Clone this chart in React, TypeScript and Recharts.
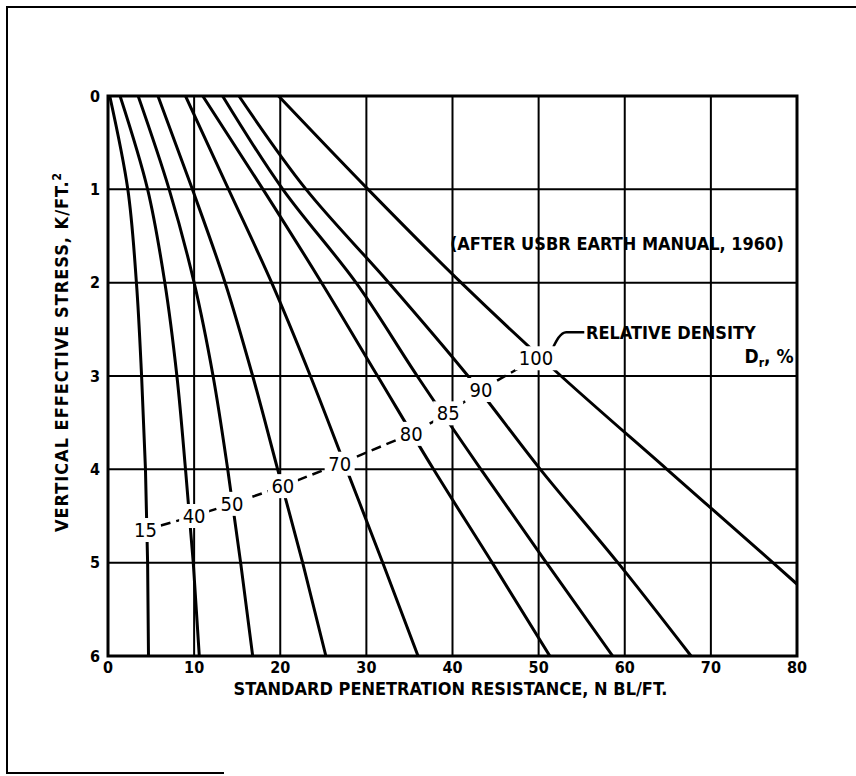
import React from "react";
import {
  CartesianGrid,
  Label,
  Line,
  LineChart,
  ReferenceArea,
  ReferenceDot,
  XAxis,
  YAxis,
} from "recharts";

const FONT = '"DejaVu Sans Condensed", "DejaVu Sans", sans-serif';

// vertical effective stress, k/ft^2
const stressLevels = [0, 1, 2, 3, 4, 5, 6];

// N (blows/ft) at the stress levels above
const dr15 = [0.2, 2.3, 3.3, 3.9, 4.35, 4.6, 4.7];
const dr40 = [1.4, 4.6, 6.6, 8.0, 9.0, 9.9, 10.6];
const dr50 = [3.5, 7.1, 10.0, 12.2, 13.9, 15.4, 16.8];
const dr60 = [5.8, 9.8, 13.6, 16.8, 19.7, 22.6, 25.3];
const dr70 = [9.0, 14.0, 19.0, 23.5, 27.7, 31.9, 36.0];
const dr80 = [11.0, 18.0, 24.8, 31.3, 37.8, 44.6, 51.3];
const dr85 = [13.3, 20.3, 28.8, 35.9, 43.3, 50.9, 58.6];
const dr90 = [15.2, 23.0, 32.6, 41.8, 50.2, 59.2, 67.7];
// the 100% line runs out through the right edge before stress 6
const dr100 = [19.8, 30.2, 41.0, 52.6, 64.9, 77.2];
const dr100ExitN = 80;
const dr100ExitS = 5.23;

// relative density tags sitting on the dashed line
const densityLabels = ["15", "40", "50", "60", "70", "80", "85", "90", "100"];
const densityN = [4.35, 10.0, 14.4, 20.3, 26.9, 35.2, 39.5, 43.3, 49.7];
const densityS = [4.65, 4.5, 4.37, 4.18, 3.94, 3.62, 3.4, 3.15, 2.81];

// leader from the "100" tag to the RELATIVE DENSITY note
const leaderN = [51.7, 52.3, 53.2, 55.3];
const leaderS = [2.69, 2.59, 2.53, 2.53];

const xTicks = [0, 10, 20, 30, 40, 50, 60, 70, 80];
const yTicks = [0, 1, 2, 3, 4, 5, 6];

const toPoints = (ns: number[]) => ns.map((n, i) => ({ n, s: stressLevels[i] }));

const curves = [
  { key: "15", pts: toPoints(dr15) },
  { key: "40", pts: toPoints(dr40) },
  { key: "50", pts: toPoints(dr50) },
  { key: "60", pts: toPoints(dr60) },
  { key: "70", pts: toPoints(dr70) },
  { key: "80", pts: toPoints(dr80) },
  { key: "85", pts: toPoints(dr85) },
  { key: "90", pts: toPoints(dr90) },
  { key: "100", pts: [...toPoints(dr100), { n: dr100ExitN, s: dr100ExitS }] },
];

const densityPts = densityN.map((n, i) => ({ n, s: densityS[i] }));
const leaderPts = leaderN.map((n, i) => ({ n, s: leaderS[i] }));

function DensityTag(props: any) {
  const { cx, cy, index } = props;
  const t = densityLabels[index];
  const w = t.length * 12 + 6;
  return (
    <g key={`tag-${index}`}>
      <rect x={cx - w / 2} y={cy - 12} width={w} height={24} fill="#fff" />
      <text x={cx} y={cy + 7} textAnchor="middle" fontFamily={FONT} fontSize={20} fill="#000">
        {t}
      </text>
    </g>
  );
}

const noteStyle = { fontFamily: FONT, fontWeight: 700, fill: "#000" };
const tickStyle = { fontSize: 16, fontWeight: 700, fill: "#000", fontFamily: FONT };

export default function App() {
  return (
    <div
      style={{
        position: "absolute",
        left: 0,
        top: 0,
        width: 856,
        height: 776,
        background: "#fff",
        overflow: "hidden",
      }}
    >
      {/* outer frame of the figure */}
      <div style={{ position: "absolute", left: 6, top: 6, width: 850, height: 2, background: "#000" }} />
      <div style={{ position: "absolute", left: 6, top: 6, width: 2, height: 768, background: "#000" }} />
      <div style={{ position: "absolute", left: 6, top: 772, width: 218, height: 2, background: "#000" }} />
      <LineChart width={856} height={776} margin={{ top: 96, right: 59, bottom: 90, left: 68 }}>
        <CartesianGrid stroke="#000" strokeWidth={2} />
        <XAxis
          type="number"
          dataKey="n"
          domain={[0, 80]}
          ticks={xTicks}
          interval={0}
          allowDataOverflow
          height={30}
          tickLine={false}
          axisLine={false}
          tickSize={0}
          tickMargin={6}
          tick={tickStyle}
        >
          <Label
            content={(p: any) => {
              const vb = p.viewBox;
              return (
                <text
                  x={vb.x + vb.width / 2 - 2}
                  y={vb.y + 39}
                  textAnchor="middle"
                  fontSize={18}
                  {...noteStyle}
                >
                  STANDARD PENETRATION RESISTANCE, N BL/FT.
                </text>
              );
            }}
          />
        </XAxis>
        <YAxis
          type="number"
          dataKey="s"
          domain={[0, 6]}
          reversed
          ticks={yTicks}
          interval={0}
          allowDataOverflow
          width={40}
          tickLine={false}
          axisLine={false}
          tickSize={6}
          tickMargin={2}
          tick={tickStyle}
        >
          <Label
            content={(p: any) => {
              const vb = p.viewBox;
              const cx = vb.x;
              const cy = vb.y + vb.height / 2 - 24;
              return (
                <text
                  x={cx}
                  y={cy}
                  transform={`rotate(-90 ${cx} ${cy})`}
                  textAnchor="middle"
                  fontSize={18}
                  letterSpacing={1}
                  {...noteStyle}
                >
                  VERTICAL EFFECTIVE STRESS, K/FT.
                  <tspan dy={-7} fontSize={12}>
                    2
                  </tspan>
                </text>
              );
            }}
          />
        </YAxis>
        <ReferenceArea x1={0} x2={80} y1={0} y2={6} fill="none" fillOpacity={0} stroke="#000" strokeWidth={3} />
        {curves.map((c) => (
          <Line
            key={c.key}
            data={c.pts}
            dataKey="s"
            type="monotoneY"
            stroke="#000"
            strokeWidth={3}
            dot={false}
            activeDot={false}
            isAnimationActive={false}
          />
        ))}
        <Line
          data={leaderPts}
          dataKey="s"
          type="monotone"
          stroke="#000"
          strokeWidth={2.5}
          dot={false}
          activeDot={false}
          isAnimationActive={false}
        />
        <Line
          data={densityPts}
          dataKey="s"
          type="linear"
          stroke="#000"
          strokeWidth={2.5}
          strokeDasharray="10 6"
          dot={DensityTag}
          activeDot={false}
          isAnimationActive={false}
        />
        <ReferenceDot
          x={39.7}
          y={1.58}
          r={0}
          shape={(p: any) => (
            <text x={p.cx} y={p.cy + 7} fontSize={18} {...noteStyle}>
              (AFTER USBR EARTH MANUAL, 1960)
            </text>
          )}
        />
        <ReferenceDot
          x={55.5}
          y={2.53}
          r={0}
          shape={(p: any) => (
            <text x={p.cx} y={p.cy + 7} fontSize={18} {...noteStyle}>
              RELATIVE DENSITY
            </text>
          )}
        />
        <ReferenceDot
          x={73.9}
          y={2.8}
          r={0}
          shape={(p: any) => (
            <text x={p.cx} y={p.cy + 6} fontSize={19} {...noteStyle}>
              D
              <tspan dy={4} fontSize={12}>
                r
              </tspan>
              <tspan dy={-4}>, %</tspan>
            </text>
          )}
        />
      </LineChart>
    </div>
  );
}
